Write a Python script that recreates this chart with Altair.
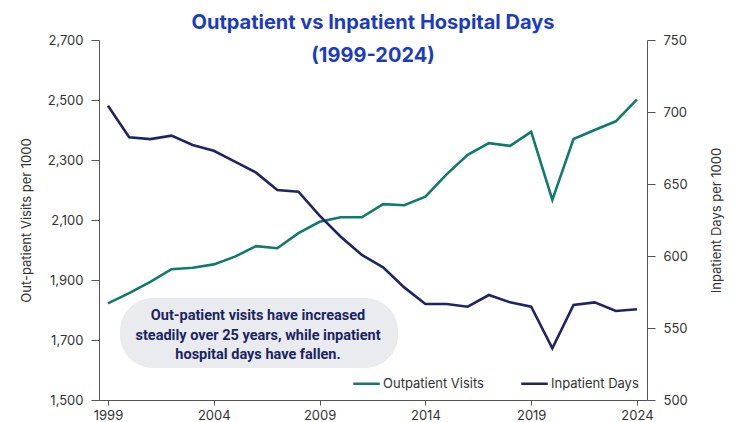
import altair as alt
import pandas as pd

years = list(range(1999, 2025))
outpatient = [1822, 1856, 1894, 1936, 1941, 1952, 1978, 2013, 2006, 2056,
              2094, 2109, 2109, 2153, 2149, 2178, 2252, 2317, 2356, 2347,
              2394, 2167, 2370, 2400, 2429, 2502]
inpatient = [704.4, 682.4, 681.2, 683.6, 677.1, 673.1, 665.5, 657.9, 645.8, 644.7,
             628.0, 613.4, 600.7, 592.1, 578.2, 566.7, 566.7, 564.8, 572.9, 567.8,
             564.8, 535.9, 566.0, 567.8, 561.8, 563.0]
series_names = ["Outpatient Visits", "Inpatient Days"]
series_colors = ["#127a6c", "#1f2462"]
x_ticks = [1999, 2004, 2009, 2014, 2019, 2024]
left_ticks = [1500, 1700, 1900, 2100, 2300, 2500, 2700]
right_ticks = [500, 550, 600, 650, 700, 750]
note_lines = ["Out-patient visits have increased",
              "steadily over 25 years, while inpatient",
              "hospital days have fallen."]

rows = []
for y, o, i in zip(years, outpatient, inpatient):
    rows.append({"year": y, "value": o, "series": series_names[0]})
    rows.append({"year": y, "value": i, "series": series_names[1]})
df = pd.DataFrame(rows)

FONT = "Inter"
x_enc = alt.X("year:Q",
              scale=alt.Scale(domain=[1998.575, 2024.473], nice=False, zero=False),
              axis=alt.Axis(values=x_ticks, format="d", title=None, grid=False,
                            labelFontSize=13, labelColor="#333333", labelFont=FONT,
                            domainColor="#555555", tickColor="#555555",
                            tickSize=5, labelPadding=4, labelFlush=False))
color_enc = alt.Color("series:N",
                      scale=alt.Scale(domain=series_names, range=series_colors),
                      legend=alt.Legend(title=None, orient="none", legendX=253, legendY=329,
                                        direction="horizontal", symbolType="stroke",
                                        symbolSize=700, symbolStrokeWidth=2.5,
                                        labelFontSize=13, labelFont=FONT,
                                        labelColor="#333333", labelOffset=2,
                                        columnPadding=32))

base = alt.Chart(df)

out_line = base.transform_filter(alt.datum.series == series_names[0]).mark_line(
    strokeWidth=2.6).encode(
    x=x_enc,
    y=alt.Y("value:Q",
            scale=alt.Scale(domain=[1500, 2700], nice=False, zero=False),
            axis=alt.Axis(orient="left", values=left_ticks, format=",d",
                          title="Out-patient Visits per 1000", grid=False,
                          titleFontSize=13, titleFont=FONT, titleFontWeight="normal",
                          titleColor="#333333", titlePadding=14,
                          labelFontSize=13, labelFont=FONT, labelColor="#333333",
                          domainColor="#555555", tickColor="#555555",
                          tickSize=8, labelPadding=8)),
    color=color_enc,
)

in_line = base.transform_filter(alt.datum.series == series_names[1]).mark_line(
    strokeWidth=2.6).encode(
    x=x_enc,
    y=alt.Y("value:Q",
            scale=alt.Scale(domain=[500, 750], nice=False, zero=False),
            axis=alt.Axis(orient="right", values=right_ticks,
                          title="Inpatient Days per 1000", grid=False,
                          titleAngle=270, titleBaseline="bottom",
                          titleFontSize=13, titleFont=FONT, titleFontWeight="normal",
                          titleColor="#333333", titlePadding=36,
                          labelFontSize=13, labelFont=FONT, labelColor="#333333",
                          domainColor="#555555", tickColor="#555555",
                          tickSize=8, labelPadding=8)),
    color=color_enc,
)

note_df = pd.DataFrame({"note": ["\n".join(note_lines)]})
box = alt.Chart(note_df).mark_rect(color="#e9ebef", cornerRadius=33).encode(
    x=alt.value(21), x2=alt.value(299), y=alt.value(258), y2=alt.value(328))
note = alt.Chart(note_df).mark_text(
    lineBreak="\n", align="center", baseline="middle", fontSize=14.5,
    fontWeight="bold", font="Roboto",
    color="#1b2462", lineHeight=19.5).encode(
    x=alt.value(159), y=alt.value(276), text="note:N")

chart = alt.layer(box, note, out_line, in_line).resolve_scale(
    y="independent"
).properties(
    width=548, height=360,
    autosize=alt.AutoSizeParams(type="none"),
    padding={"left": 91, "top": 32, "right": 80, "bottom": 22},
    title=alt.Title(["Outpatient vs Inpatient Hospital Days", "(1999-2024)"],
                    fontSize=20, font=FONT, fontWeight="bold", color="#1c3cc0",
                    lineHeight=33, offset=-32, anchor="middle"),
).configure_view(stroke=None)

chart.save("out.html", embed_options={"renderer": "svg", "actions": False})
